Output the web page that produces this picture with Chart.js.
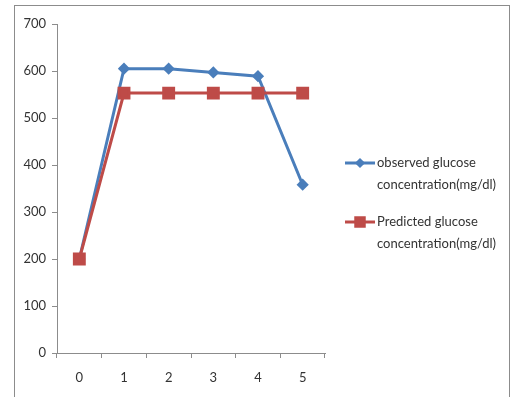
<!DOCTYPE html>
<html>
<head>
<meta charset="utf-8">
<script src="https://cdn.jsdelivr.net/npm/chart.js@4/dist/chart.umd.min.js"></script>
<style>
    body { margin: 0; background: #fff; }
    #wrap { position: relative; width: 520px; height: 397px; overflow: hidden; }
    #frame { position: absolute; left: 14px; top: 5px; width: 494px; height: 420px; border: 1px solid #8c8c8c; }
    canvas { position: absolute; left: 0; top: 0; }
</style>
</head>
<body>
<div id="wrap">
    <div id="frame"></div>
    <canvas id="chart" width="520" height="397"></canvas>
</div>
<script>
// Daten
const labels = ['0', '1', '2', '3', '4', '5'];
const observed = [200, 605, 605, 597, 589, 358];
const predicted = [200, 553, 553, 553, 553, 553];
const observedLabel = ['observed glucose', 'concentration(mg/dl)'];
const predictedLabel = ['Predicted glucose', 'concentration(mg/dl)'];

const fontFamily = 'Lato, "Open Sans", sans-serif';

// Legende rechts selbst zeichnen (zweizeilige Einträge)
const sideLegend = {
    id: 'sideLegend',
    afterDraw(chart) {
        const ctx = chart.ctx;
        const rows = [163, 222];
        chart.data.datasets.forEach((ds, i) => {
            const y = rows[i];
            ctx.save();
            ctx.strokeStyle = ds.borderColor;
            ctx.lineWidth = 3;
            ctx.beginPath();
            ctx.moveTo(345, y);
            ctx.lineTo(375, y);
            ctx.stroke();
            Chart.helpers.drawPoint(ctx, {
                pointStyle: ds.pointStyle,
                radius: ds.pointRadius - 1,
                borderWidth: 1
            }, 360, y);
            ctx.fillStyle = ds.pointBackgroundColor;
            ctx.fill();
            ctx.fillStyle = '#333';
            ctx.font = '13px ' + fontFamily;
            ctx.textBaseline = 'middle';
            ds.legendLines.forEach((line, j) => {
                ctx.fillText(line, 377, y + j * 22);
            });
            ctx.restore();
        });
    }
};

var ctx = document.getElementById('chart').getContext('2d');
var glucoseChart = new Chart(ctx, {
    type: 'line',
    data: {
        labels: labels,
        datasets: [
            {
                label: observedLabel.join(' '),
                legendLines: observedLabel,
                data: observed,
                order: 1,
                borderColor: '#4a7ebb',
                backgroundColor: '#4a7ebb',
                pointBackgroundColor: '#4a7ebb',
                pointBorderColor: '#4a7ebb',
                pointStyle: 'rectRot',
                pointRadius: 4,
                borderWidth: 3,
                tension: 0
            },
            {
                label: predictedLabel.join(' '),
                legendLines: predictedLabel,
                data: predicted,
                order: 0, // rot liegt oben
                borderColor: '#be4b48',
                backgroundColor: '#be4b48',
                pointBackgroundColor: '#be4b48',
                pointBorderColor: '#be4b48',
                pointStyle: 'rect',
                pointRadius: 7,
                borderWidth: 3,
                tension: 0
            }
        ]
    },
    options: {
        responsive: false,
        animation: false,
        layout: {
            padding: { top: 24, right: 195, bottom: 0, left: 0 }
        },
        plugins: {
            legend: { display: false },
            tooltip: { enabled: false }
        },
        scales: {
            x: {
                offset: true,
                grid: {
                    offset: true,
                    drawOnChartArea: false,
                    tickLength: 5,
                    color: '#8c8c8c'
                },
                border: { color: '#8c8c8c', width: 1 },
                ticks: {
                    padding: 12,
                    color: '#333',
                    font: { family: fontFamily, size: 13 }
                },
                afterFit: (scale) => { scale.height = 44; }
            },
            y: {
                min: 0,
                max: 700,
                ticks: {
                    stepSize: 100,
                    padding: 6,
                    color: '#333',
                    font: { family: fontFamily, size: 13 }
                },
                grid: {
                    drawOnChartArea: false,
                    tickLength: 5,
                    color: '#8c8c8c'
                },
                border: { color: '#8c8c8c', width: 1 },
                afterFit: (scale) => { scale.width = 57; }
            }
        }
    },
    plugins: [sideLegend]
});
</script>
</body>
</html>
